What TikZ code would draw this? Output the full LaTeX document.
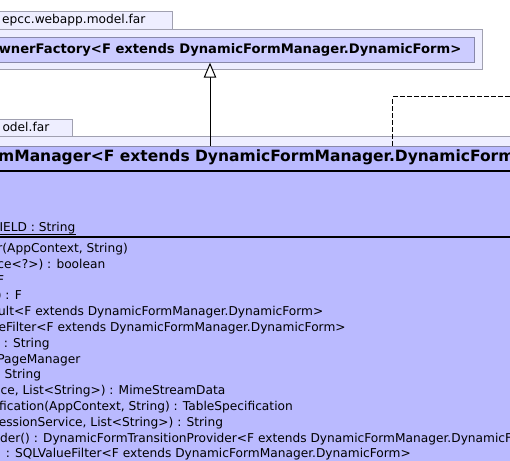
\documentclass[tikz,border=0pt]{standalone}
\usepackage{fontspec}
\setmainfont{DejaVu Sans}
\usetikzlibrary{arrows.meta}

\definecolor{pkgfill}{RGB}{238,238,255}
\definecolor{pkgline}{RGB}{160,160,176}
\definecolor{clsfill}{RGB}{204,204,255}
\definecolor{selfill}{RGB}{186,186,255}
\definecolor{clsline}{RGB}{136,136,170}

\begin{document}
\begin{tikzpicture}[x=1pt, y=-1pt,
    pkg/.style={draw=pkgline, fill=pkgfill, line width=1pt, inner sep=0pt, anchor=north west},
    cls/.style={draw=clsline, line width=1pt, inner sep=0pt, anchor=north west},
    tabtext/.style={inner sep=0pt, font=\fontsize{12.2}{14}\selectfont},
    title/.style={inner sep=0pt, font=\bfseries\fontsize{13.15}{15}\selectfont},
    meth/.style={inner sep=0pt, anchor=base east, font=\fontsize{12.2}{14}\selectfont},
    inherit/.style={-{Triangle[open, fill=white, length=15pt, width=12.5pt]}, line width=1pt},
    depend/.style={dash pattern=on 5pt off 2pt, line width=1pt}]
%   \draw[help lines] (0,0) grid (510,460);
\useasboundingbox (0,0) rectangle (510,460);
\clip (0,0) rectangle (510,460);
\fill[white] (0,0) rectangle (510,460);

% upper package with the factory
\node[pkg, minimum width=221.7pt, minimum height=18pt] (fartab) at (-50,11.3) {};
\node[tabtext, anchor=base west] (fartabname) at (2,23.3) {epcc.webapp.model.far};
\node[pkg, minimum width=532.3pt, minimum height=39.7pt] (farpkg) at (-50,29.3) {};
\node[cls, fill=clsfill, minimum width=524.3pt, minimum height=24.4pt] (ownerfactory) at (-50,37.3) {};
\node[title, anchor=base east] (ownerfactoryname) at (461.5,53.3) {wnerFactory<F extends DynamicFormManager.DynamicForm>};

% lower package with the manager
\node[pkg, minimum width=122.3pt, minimum height=16.7pt] (modeltab) at (-50,119.3) {};
\node[tabtext, anchor=base east] (modeltabname) at (49.5,131.7) {odel.far};
\node[pkg, minimum width=620pt, minimum height=400pt] (modelpkg) at (-50,136) {};
\node[cls, fill=selfill, minimum width=620pt, minimum height=400pt] (formmanager) at (-50,145.5) {};
\node[title, font=\bfseries\fontsize{15.5}{18}\selectfont, anchor=base west] (formmanagername) at (-2,161.5) {mManager<F extends DynamicFormManager.DynamicForm};
\draw[line width=1.2pt] (-50,171) -- (560,171);
\draw[line width=2pt] (-50,236.8) -- (560,236.8);

% fields
\node[meth] (fieldname) at (75.5,231.5) {IELD : String};
\draw[line width=0.9pt] ([yshift=-2.5pt]fieldname.base west) -- ([yshift=-2.5pt]fieldname.base east);

% methods
\node[meth] (m1) at (128,252.5) {r(AppContext, String)};
\node[meth] (m2) at (105.5,268.3) {ce<?>) : boolean};
\node[meth] (m3) at (4.3,284.1) {F};
\node[meth] (m4) at (22,299.9) {) : F};
\node[meth] (m5) at (323.5,315.7) {ult<F extends DynamicFormManager.DynamicForm>};
\node[meth] (m6) at (345.8,331.5) {eFilter<F extends DynamicFormManager.DynamicForm>};
\node[meth] (m7) at (49.8,347.3) {: String};
\node[meth] (m8) at (80.5,363.1) {PageManager};
\node[meth] (m9) at (41.2,378.9) {String};
\node[meth] (m10) at (225.5,394.7) {ce, List<String>) : MimeStreamData};
\node[meth, anchor=base west] (m11) at (-1,410.5) {fication(AppContext, String) : TableSpecification};
\node[meth] (m12) at (223.2,426.3) {essionService, List<String>) : String};
\node[meth, anchor=base west] (m13) at (0,442.1) {der() : DynamicFormTransitionProvider<F extends DynamicFormManager.DynamicForm>};
\node[meth] (m14) at (411,457.9) {: SQLValueFilter<F extends DynamicFormManager.DynamicForm>};

% relations
\coordinate (inheritx) at (210,0);
\coordinate (dependx) at (392.7,0);
\coordinate (dependend) at (515,96.7);
\draw[inherit] (formmanager.north -| inheritx) -- (ownerfactory.south -| inheritx);
\draw[depend] (formmanager.north -| dependx) |- (dependend);
\end{tikzpicture}
\end{document}
